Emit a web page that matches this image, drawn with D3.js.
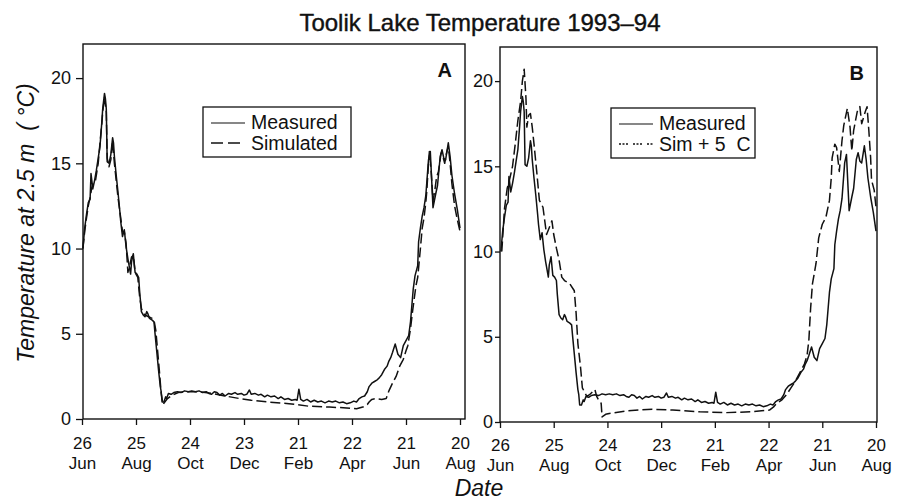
<!DOCTYPE html>
<html>
<head>
<meta charset="utf-8">
<script src="https://cdn.jsdelivr.net/npm/d3@7"></script>
<style>
  html, body { margin: 0; padding: 0; background: #fff; }
  svg { display: block; font-family: "Liberation Sans", Arial, Helvetica, sans-serif; }
  text { fill: #111; }
</style>
</head>
<body>
<svg id="chart" width="898" height="500"></svg>
<script>
// days counted from 26 Jun 1993
var startDate = new Date(1993, 5, 26),
    tickDays = [0, 60, 120, 180, 240, 300, 360, 420],
    yTicks = [0, 5, 10, 15, 20],
    legendA = ["Measured", "Simulated"],
    legendB = ["Measured", "Sim + 5  C"];

// [day, temp °C]
var measured = [
    [1,10.0],[3,11.2],[5,12.0],[7,12.7],[9,12.9],[10,14.4],[12,13.5],[14,14.0],[16,14.6],[18,15.3],
    [20,16.0],[22,17.4],[23,18.2],[25,19.1],[26,18.8],[27,18.2],[28,15.1],[30,15.0],[32,15.5],[34,16.5],
    [35,16.2],[36,15.4],[38,14.3],[40,13.3],[42,12.2],[43,11.6],[45,10.7],[47,11.1],[49,10.1],[51,9.4],
    [52,9.1],[54,8.5],[55,9.2],[57,9.7],[59,8.6],[61,8.5],[63,8.3],[64,7.5],[66,6.3],[68,6.1],
    [70,6.0],[72,6.3],[73,6.2],[75,5.9],[78,5.8],[80,5.7],[81,5.1],[83,4.0],[85,2.9],[87,1.9],
    [88,1.6],[89,1.0],[91,1.0],[93,1.3],[94,1.2],[96,1.5],[99,1.45],[102,1.55],[106,1.6],[110,1.55],
    [114,1.65],[118,1.6],[122,1.65],[126,1.6],[130,1.65],[134,1.55],[138,1.6],[141,1.5],[144,1.45],[147,1.6],
    [150,1.55],[153,1.4],[156,1.5],[159,1.35],[163,1.5],[166,1.45],[170,1.55],[173,1.45],[177,1.5],[180,1.4],
    [183,1.45],[186,1.7],[188,1.45],[192,1.5],[196,1.4],[199,1.45],[203,1.3],[206,1.4],[210,1.3],[214,1.35],
    [218,1.2],[221,1.3],[225,1.15],[229,1.2],[233,1.1],[237,1.15],[239,1.1],[241,1.75],[243,1.15],[246,1.05],
    [250,1.15],[254,1.0],[258,1.1],[262,1.0],[266,1.05],[270,0.95],[274,1.05],[278,1.0],[282,1.05],[286,0.95],
    [290,1.0],[294,0.9],[298,0.95],[302,1.05],[305,1.0],[308,1.2],[311,1.3],[314,1.35],[317,1.6],[319,1.9],
    [322,2.1],[325,2.2],[328,2.3],[330,2.4],[333,2.6],[336,2.9],[339,3.1],[341,3.4],[343,3.6],[345,3.9],
    [348,4.4],[351,3.8],[354,3.6],[357,4.3],[360,4.6],[363,4.9],[365,5.7],[368,7.6],[370,8.4],[373,9.0],
    [374,10.4],[376,11.2],[378,11.9],[380,12.4],[382,13.1],[385,15.2],[387,15.7],[389,13.5],[390,12.4],[393,13.2],
    [395,13.7],[398,15.4],[400,15.8],[402,15.3],[404,15.2],[407,16.2],[409,15.4],[411,14.3],[414,13.2],[417,12.3],
    [420,11.2]
];

var simulated = [
    [1,10.0],[3,11.0],[5,11.8],[7,12.5],[9,13.0],[11,13.6],[13,13.9],[15,14.0],[18,15.0],[20,16.2],
    [22,17.3],[23,18.0],[25,18.9],[27,18.0],[28,15.3],[30,14.8],[32,15.2],[34,16.3],[36,15.0],[38,14.0],
    [40,13.0],[43,11.8],[45,11.0],[47,11.0],[49,10.3],[51,8.6],[53,9.0],[55,9.5],[57,9.6],[59,8.6],
    [62,8.3],[64,7.2],[66,6.5],[68,6.2],[70,6.1],[74,6.0],[78,5.9],[80,5.8],[82,5.2],[84,4.0],
    [86,2.8],[88,1.5],[90,0.85],[92,1.0],[95,1.2],[100,1.4],[107,1.55],[115,1.6],[130,1.6],[145,1.5],
    [159,1.35],[175,1.2],[188,1.1],[206,1.0],[230,0.9],[252,0.75],[275,0.7],[294,0.65],[305,0.6],[312,0.7],
    [317,0.85],[319,1.0],[322,1.15],[327,1.2],[333,1.15],[338,1.2],[341,1.65],[345,2.1],[349,2.5],[353,3.1],
    [357,3.5],[360,4.0],[362,4.3],[365,5.3],[367,6.2],[369,7.0],[371,7.8],[373,8.3],[376,10.0],[378,11.2],
    [380,11.8],[382,12.7],[383,13.3],[385,15.0],[386,15.7],[388,14.5],[390,12.8],[392,13.4],[394,14.2],[396,14.5],
    [399,15.6],[401,15.4],[403,15.0],[405,15.6],[407,16.0],[409,15.0],[411,13.8],[414,12.5],[417,11.7],[420,11.0]
];

var simPlus5 = [
    [2,10.0],[5,12.5],[8,13.7],[11,14.3],[14,15.0],[17,16.3],[20,17.7],[23,18.8],[25,20.0],[27,20.7],
    [29,19.0],[30,17.3],[32,18.0],[34,18.1],[36,17.3],[38,16.3],[41,14.7],[44,13.0],[48,12.6],[52,11.0],
    [55,11.4],[58,11.8],[60,11.0],[63,10.2],[66,9.5],[69,8.5],[72,8.3],[78,8.1],[83,7.7],[85,6.4],
    [87,4.6],[90,3.2],[92,2.0],[97,1.5],[100,1.6],[102,1.7],[106,1.9],[108,1.5],[111,1.2],[113,1.1],
    [114,0.3],[118,0.45],[122,0.5],[141,0.65],[170,0.75],[193,0.7],[223,0.6],[253,0.55],[282,0.6],[301,0.7],
    [306,0.9],[309,1.1],[315,1.3],[320,1.6],[325,2.0],[330,2.4],[335,2.9],[340,3.4],[343,3.9],[345,4.8],
    [347,6.7],[349,8.1],[353,9.3],[356,10.8],[360,11.6],[364,12.0],[368,13.0],[370,14.3],[371,15.5],[374,16.3],
    [376,16.1],[379,14.7],[382,16.5],[384,17.4],[388,18.4],[391,17.3],[393,15.9],[395,17.1],[399,18.2],[402,18.5],
    [404,17.5],[408,18.2],[410,18.5],[412,17.1],[414,15.5],[415,14.2],[418,13.6],[420,12.6]
];

var svg = d3.select("#chart"),
    dayToDate = function(d) { return d3.timeDay.offset(startDate, d); };

svg.append("text")
    .attr("x", 480).attr("y", 31)
    .attr("text-anchor", "middle")
    .attr("font-size", 24)
    .attr("stroke", "#111").attr("stroke-width", 0.4)
    .text("Toolik Lake Temperature 1993\u201394");

svg.append("text")
    .attr("transform", "translate(34,223) rotate(-90)")
    .attr("text-anchor", "middle")
    .attr("font-size", 23)
    .attr("font-style", "italic")
    .style("white-space", "pre")
    .text("Temperature at 2.5 m  ( \u00b0C)");

svg.append("text")
    .attr("x", 479).attr("y", 496)
    .attr("text-anchor", "middle")
    .attr("font-size", 23)
    .attr("font-style", "italic")
    .text("Date");

function drawPanel(p) {
    var x = d3.scaleTime()
            .domain([startDate, dayToDate(420)])
            .range([p.x0, p.x1]),
        y = d3.scaleLinear().domain([0, 22]).range([p.bottom, p.top]),
        g = svg.append("g");

    var line = d3.line()
        .x(function(d) { return x(dayToDate(d[0])); })
        .y(function(d) { return y(d[1]); });

    // y axis
    var ya = g.append("g")
        .attr("transform", "translate(" + p.left + ",0)")
        .call(d3.axisLeft(y).tickValues(yTicks).tickSize(p.ytick).tickPadding(p.ypad));
    ya.select(".domain").remove();
    ya.attr("font-size", 18).attr("font-family", null);
    ya.selectAll("line").attr("stroke", "#111").attr("stroke-width", 1.3);

    // x axis: day number, month below as its own text
    var xa = g.append("g")
        .attr("transform", "translate(0," + p.bottom + ")")
        .call(d3.axisBottom(x).tickValues(tickDays.map(dayToDate)).tickSize(6));
    xa.select(".domain").remove();
    xa.attr("font-size", 17).attr("font-family", null);
    xa.selectAll("line").attr("stroke", "#111").attr("stroke-width", 1.3);
    xa.selectAll(".tick text")
        .attr("y", p.lab1).attr("dy", null)
        .text(d3.timeFormat("%d"));
    xa.selectAll(".tick").append("text")
        .attr("fill", "currentColor")
        .attr("y", p.lab1 + 19.8)
        .text(d3.timeFormat("%b"));

    g.append("rect")
        .attr("x", p.left).attr("y", p.top)
        .attr("width", p.right - p.left).attr("height", p.bottom - p.top)
        .attr("fill", "none").attr("stroke", "#111").attr("stroke-width", 1.4);

    g.append("path")
        .datum(p.sim)
        .attr("fill", "none").attr("stroke", "#111")
        .attr("stroke-width", 1.5).attr("stroke-dasharray", "10,4")
        .attr("stroke-linejoin", "round")
        .attr("d", line);

    g.append("path")
        .datum(measured)
        .attr("fill", "none").attr("stroke", "#111")
        .attr("stroke-width", 1.5).attr("stroke-linejoin", "round")
        .attr("d", line);

    g.append("text")
        .attr("x", p.right - 13).attr("y", p.top + 33)
        .attr("text-anchor", "end")
        .attr("font-size", 20).attr("font-weight", "bold")
        .text(p.label);

    // legend
    var lg = g.append("g").attr("transform", "translate(" + p.legX + "," + p.legY + ")");
    lg.append("rect")
        .attr("width", p.legW).attr("height", 50)
        .attr("fill", "#fff").attr("stroke", "#111").attr("stroke-width", 1.3);
    lg.append("line")
        .attr("x1", 8).attr("x2", 42).attr("y1", 16).attr("y2", 16)
        .attr("stroke", "#111").attr("stroke-width", 1.2);
    lg.append("line")
        .attr("x1", 8).attr("x2", 42).attr("y1", 36).attr("y2", 36)
        .attr("stroke", "#111").attr("stroke-width", 1.3)
        .attr("stroke-dasharray", p.legDash);
    lg.selectAll("text.leg")
        .data(p.legend)
        .enter().append("text")
        .attr("class", "leg")
        .attr("x", 48)
        .attr("y", function(d, i) { return 22 + i * 21; })
        .attr("font-size", 19.5)
        .style("white-space", "pre")
        .text(function(d) { return d; });
}

drawPanel({
    left: 83, right: 465, top: 44, bottom: 419, x0: 82, x1: 460,
    ytick: 7, ypad: 5, lab1: 30,
    sim: simulated, label: "A",
    legX: 203, legY: 107, legW: 148, legDash: "12,5",
    legend: legendA
});

drawPanel({
    left: 500, right: 877, top: 47, bottom: 422, x0: 500, x1: 876,
    ytick: 5, ypad: 2, lab1: 29,
    sim: simPlus5, label: "B",
    legX: 611, legY: 108, legW: 144, legDash: "2,1.5,2,1.5,2,5",
    legend: legendB
});
</script>
</body>
</html>
